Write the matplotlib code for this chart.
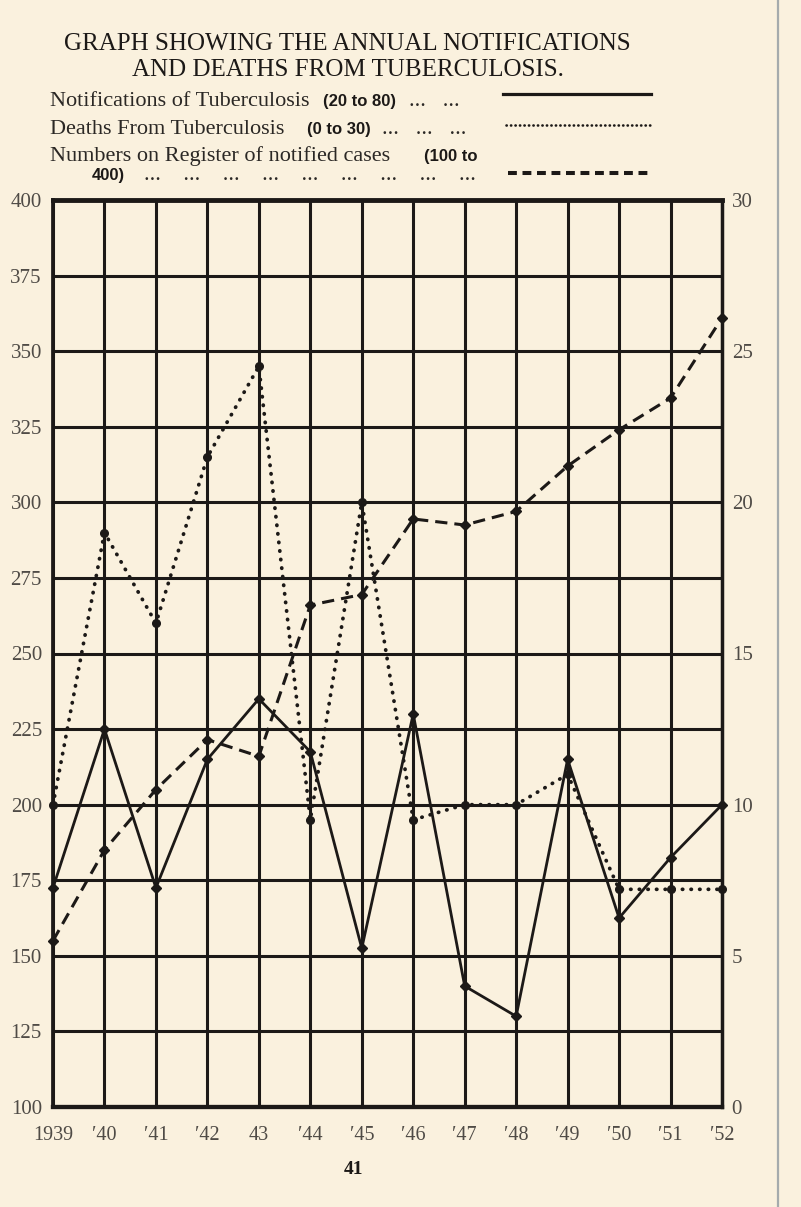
import matplotlib
matplotlib.use("Agg")
import matplotlib.pyplot as plt
from matplotlib.lines import Line2D

# values
years = list(range(1939, 1953))
year_labels = ["1939", "\u203240", "\u203241", "\u203242", "43", "\u203244", "\u203245",
               "\u203246", "\u203247", "\u203248", "\u203249", "\u203250", "\u203251", "\u203252"]

notifications = [34.5, 45, 34.5, 43, 47, 43.5, 30.5, 46, 28, 26, 43, 32.5, 36.5, 40]   # 20 to 80
deaths = [10, 19, 16, 21.5, 24.5, 9.5, 20, 9.5, 10, 10, 11, 7.2, 7.2, 7.2]              # 0 to 30
register = [155, 185, 205, 221.5, 216, 266, 269.5, 294.5, 292.5, 297, 312, 324, 334.5, 361]  # 100 to 400

register_ticks = list(range(100, 401, 25))
deaths_ticks = list(range(0, 31, 5))

PAPER = "#faf1de"
INK = "#1c1917"
GREY = "#4f4b46"
SERIF = ["Liberation Serif", "DejaVu Serif"]
W, H = 801, 1207

plt.rcParams['font.family'] = SERIF


def fx(px):
    return px / W


def fy(py):
    return 1 - py / H


fig = plt.figure(figsize=(W / 100, H / 100), dpi=100, facecolor=PAPER)
ax = fig.add_axes([fx(53), fy(1107), (722 - 53) / W, (1107 - 200) / H], facecolor=PAPER)

# register scale on the left, also carries the grid
ax.set_xlim(1939, 1952)
ax.set_ylim(100, 400)
ax.set_xticks(years)
ax.set_xticklabels(year_labels, fontsize=14.5, color=GREY)
ax.set_yticks(register_ticks)
ax.set_yticklabels([str(v) for v in register_ticks], fontsize=15, color=GREY)
ax.tick_params(axis='y', length=0, pad=8)
ax.tick_params(axis='x', length=0, pad=14)
ax.grid(True, color=INK, linewidth=2.2)
for side, lw in [('top', 3.5), ('bottom', 3.1), ('left', 2.7), ('right', 2.5)]:
    ax.spines[side].set_linewidth(lw)
    ax.spines[side].set_color(INK)

# deaths scale on the right
axd = ax.twinx()
axd.set_ylim(0, 30)
axd.set_yticks(deaths_ticks)
axd.set_yticklabels([str(v) for v in deaths_ticks], fontsize=15, color=GREY)
axd.tick_params(axis='y', length=0, pad=7)

# notifications scale, not labelled on the chart
axn = ax.twinx()
axn.set_ylim(20, 80)
axn.yaxis.set_visible(False)

for a in (axd, axn):
    for s in a.spines.values():
        s.set_visible(False)

ax.plot(years, register, color=INK, lw=2.2, ls=(0, (4, 2.3)), dash_capstyle='butt',
        marker='D', ms=5, clip_on=False, zorder=3)
axd.plot(years, deaths, color=INK, lw=2.7, ls=(0, (0.1, 2.2)), dash_capstyle='round',
         marker='o', ms=5.5, clip_on=False, zorder=3)
axn.plot(years, notifications, color=INK, lw=2.0, marker='D', ms=5, clip_on=False, zorder=3)

# title
fig.text(fx(347), fy(50), "GRAPH SHOWING THE ANNUAL NOTIFICATIONS", ha='center', va='baseline',
         fontsize=18, color=INK)
fig.text(fx(348), fy(76), "AND DEATHS FROM TUBERCULOSIS.", ha='center', va='baseline',
         fontsize=18, color=INK)

# key
BOLD = dict(family=["Liberation Sans", "DejaVu Sans"], fontweight='bold', fontsize=12, color=INK)
PLAIN = dict(fontsize=16, color="#2b2825")
rows = [
    (106, [(50, "Notifications of Tuberculosis", PLAIN), (323, "(20 to 80)", BOLD), (409, "...   ...", PLAIN)]),
    (134, [(50, "Deaths From Tuberculosis", PLAIN), (307, "(0 to 30)", BOLD), (382, "...   ...   ...", PLAIN)]),
    (161, [(50, "Numbers on Register of notified cases", PLAIN), (424, "(100 to", BOLD)]),
    (180, [(92, "400)", BOLD), (144, "...    ...    ...    ...    ...    ...    ...    ...    ...", PLAIN)]),
]
for base, pieces in rows:
    for x0, s, kw in pieces:
        fig.text(fx(x0), fy(base), s, ha='left', va='baseline', **kw)

fig.add_artist(Line2D([fx(503), fx(651)], [fy(94)] * 2, color=INK, lw=2.3))
fig.add_artist(Line2D([fx(506), fx(650)], [fy(125)] * 2, color=INK, lw=1.9,
                      ls=(0, (0.1, 1.6)), dash_capstyle='round'))
fig.add_artist(Line2D([fx(508), fx(652)], [fy(173)] * 2, color=INK, lw=2.9,
                      ls=(0, (2.2, 1.4)), dash_capstyle='butt'))

# page number and the edge of the page
fig.text(fx(353), fy(1170), "41", ha='center', va='center', fontsize=14, fontweight='bold', color=INK)
fig.add_artist(Line2D([fx(778)] * 2, [0, 1], color="#a5abad", lw=1.6))

fig.savefig("out.png", dpi=100, facecolor=PAPER)
